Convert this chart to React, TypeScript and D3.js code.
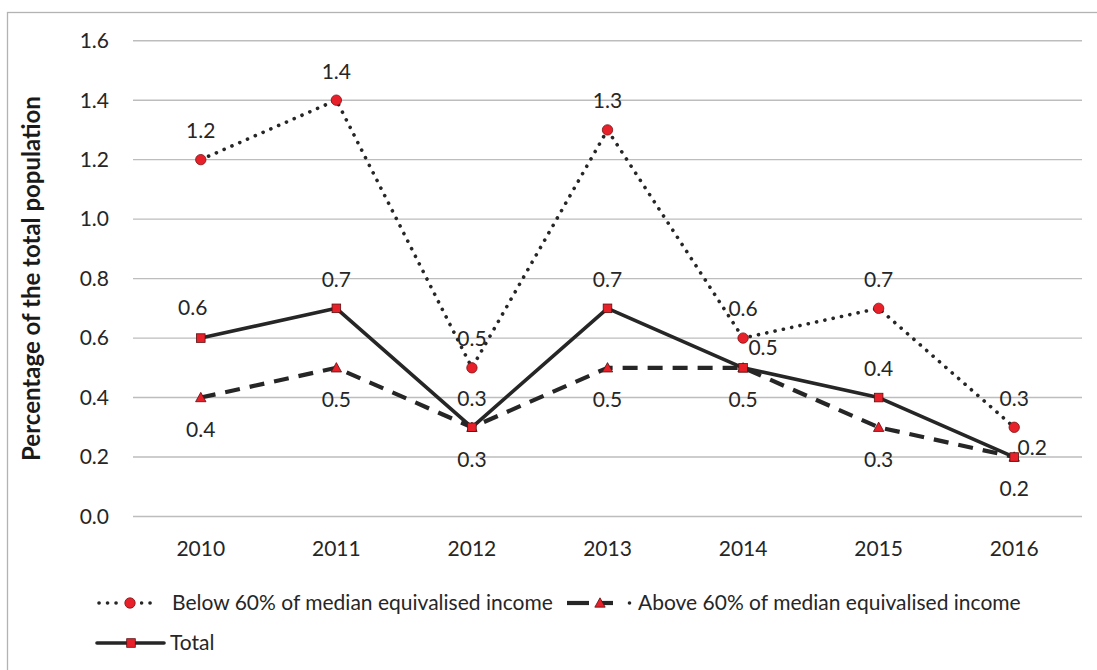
import React from "react";
import * as d3 from "d3";

const years = ["2010", "2011", "2012", "2013", "2014", "2015", "2016"];
const belowValues = [1.2, 1.4, 0.5, 1.3, 0.6, 0.7, 0.3];
const aboveValues = [0.4, 0.5, 0.3, 0.5, 0.5, 0.3, 0.2];
const totalValues = [0.6, 0.7, 0.3, 0.7, 0.5, 0.4, 0.2];
const yTicks = [0, 0.2, 0.4, 0.6, 0.8, 1.0, 1.2, 1.4, 1.6];

const belowLabelPos = ["above", "above", "above", "above", "above", "above", "above"];
const aboveLabelPos = ["below", "below", "below", "below", "below", "below", "below"];
const totalLabelPos = ["aboveLeft", "above", "above", "above", "aboveRight", "above", "right"];

const seriesNames = [
  "Below 60% of median equivalised income",
  "Above 60% of median equivalised income",
  "Total",
];

const W = 1097;
const H = 670;
const M = { left: 133, right: 1082, top: 40.7, bottom: 516.5 };
const FONT = "Lato, 'Open Sans', sans-serif";
const FS = 21;
const RED = "#e8202a";
const DARK = "#262626";
const TEXT = "#262626";

const x = d3.scaleBand<string>().domain(years).range([M.left, M.right]);
const xc = (d: string) => (x(d) as number) + x.bandwidth() / 2;
const y = d3.scaleLinear().domain([0, 1.6]).range([M.bottom, M.top]);

const offsets: Record<string, [number, number]> = {
  above: [0, -29],
  below: [0, 32],
  aboveLeft: [-8, -30],
  aboveRight: [20, -20],
  right: [18, -9],
};

function Marker({ kind, cx, cy }: { kind: string; cx: number; cy: number }) {
  if (kind === "circle")
    return <circle cx={cx} cy={cy} r={5.2} fill={RED} stroke="#7a1010" strokeWidth={0.8} />;
  if (kind === "square")
    return <rect x={cx - 4.3} y={cy - 4.3} width={8.6} height={8.6} fill={RED} stroke="#5a1010" strokeWidth={0.8} />;
  const s = 5.2;
  return (
    <path
      d={`M${cx},${cy - s} L${cx + s},${cy + s * 0.8} L${cx - s},${cy + s * 0.8} Z`}
      fill={RED}
      stroke="#5a1010"
      strokeWidth={0.8}
    />
  );
}

const series = [
  { name: seriesNames[0], values: belowValues, pos: belowLabelPos, dash: "0.1 8.4", width: 3.6, marker: "circle", cap: "round" },
  { name: seriesNames[1], values: aboveValues, pos: aboveLabelPos, dash: "15 10", width: 4.2, marker: "triangle", cap: "butt" },
  { name: seriesNames[2], values: totalValues, pos: totalLabelPos, dash: "none", width: 3.6, marker: "square", cap: "butt" },
];

export default function App() {
  const line = d3
    .line<number>()
    .x((_, i) => xc(years[i]))
    .y((v) => y(v));

  return (
    <svg
      width={W}
      height={H}
      style={{ position: "absolute", left: 0, top: 0, background: "#fff" }}
      fontFamily={FONT}
    >
      <rect x={7.5} y={12.5} width={1100} height={700} fill="#fff" stroke="#b3b3b3" strokeWidth={1.3} />
      {yTicks.map((t) => (
        <g key={t}>
          <line x1={M.left} x2={M.right} y1={y(t)} y2={y(t)} stroke="#bdbdbd" strokeWidth={1.4} />
          <text x={109} y={y(t)} dy="0.35em" textAnchor="end" fontSize={FS} fill={TEXT}>
            {t.toFixed(1)}
          </text>
        </g>
      ))}
      {years.map((yr) => (
        <text key={yr} x={xc(yr)} y={549} dy="0.35em" textAnchor="middle" fontSize={FS} fill={TEXT}>
          {yr}
        </text>
      ))}
      <text
        transform={`translate(32,${(M.top + M.bottom) / 2}) rotate(-90)`}
        textAnchor="middle"
        dy="0.35em"
        fontSize={24}
        fontWeight="bold"
        fill="#1a1a1a"
      >
        Percentage of the total population
      </text>
      {series.map((s) => (
        <path
          key={s.name}
          d={line(s.values) || ""}
          fill="none"
          stroke={DARK}
          strokeWidth={s.width}
          strokeDasharray={s.dash}
          strokeLinecap={s.cap as any}
          strokeLinejoin="round"
        />
      ))}
      {series.map((s) => (
        <g key={s.name + "m"}>
          {s.values.map((v, i) => (
            <Marker key={i} kind={s.marker} cx={xc(years[i])} cy={y(v)} />
          ))}
        </g>
      ))}
      {series.map((s) => (
        <g key={s.name + "l"}>
          {s.values.map((v, i) => {
            const [dx, dy] = offsets[s.pos[i]];
            return (
              <text
                key={i}
                x={xc(years[i]) + dx}
                y={y(v) + dy}
                dy="0.35em"
                textAnchor="middle"
                fontSize={FS}
                fill={TEXT}
              >
                {v.toFixed(1)}
              </text>
            );
          })}
        </g>
      ))}
      {/* Legend */}
      <g>
        <line x1={99} x2={156} y1={603} y2={603} stroke={DARK} strokeWidth={3.6} strokeDasharray="0.1 8.4" strokeLinecap="round" />
        <rect x={118} y={597} width={22} height={12} fill="#fff" />
        <Marker kind="circle" cx={130} cy={603} />
        <text x={172} y={603} dy="0.35em" fontSize={FS} fill={TEXT}>
          {seriesNames[0]}
        </text>
        <line x1={567} x2={589} y1={603} y2={603} stroke={DARK} strokeWidth={4.2} />
        <line x1={599} x2={613} y1={603} y2={603} stroke={DARK} strokeWidth={4.2} />
        <circle cx={629.5} cy={603} r={1.8} fill={DARK} />
        <Marker kind="triangle" cx={600} cy={603} />
        <text x={638} y={603} dy="0.35em" fontSize={FS} fill={TEXT}>
          {seriesNames[1]}
        </text>
        <line x1={97} x2={164} y1={643} y2={643} stroke={DARK} strokeWidth={3.6} strokeLinecap="round" />
        <Marker kind="square" cx={131} cy={643} />
        <text x={170} y={643} dy="0.35em" fontSize={FS} fill={TEXT}>
          {seriesNames[2]}
        </text>
      </g>
    </svg>
  );
}
